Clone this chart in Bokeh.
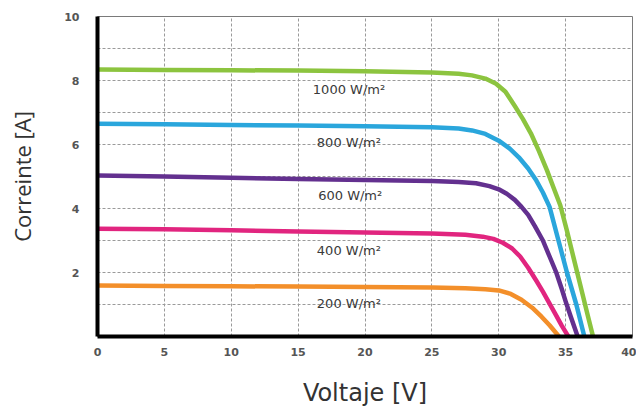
from bokeh.plotting import figure
from bokeh.models import Range1d, FixedTicker, ColumnDataSource
from bokeh.core.properties import value
from bokeh.embed import file_html
from bokeh.resources import INLINE

# ---- data ----
series_names = ["1000 W/m²", "800 W/m²", "600 W/m²", "400 W/m²", "200 W/m²"]
series_colors = ["#8cc43f", "#2aa6dc", "#63308f", "#e1257f", "#f38f2a"]

v_1000 = [0, 5, 10, 15, 20, 25, 27, 28, 29, 29.8, 30.5, 31.2, 31.8, 32.4, 33.0, 33.6, 34.1, 34.6, 35.1, 35.6, 36.1, 36.6, 37.05]
i_1000 = [8.34, 8.33, 8.32, 8.31, 8.29, 8.25, 8.21, 8.16, 8.06, 7.9, 7.65, 7.2, 6.8, 6.35, 5.8, 5.2, 4.65, 4.1, 3.3, 2.45, 1.6, 0.75, 0.0]

v_800 = [0, 5, 10, 15, 20, 25, 27, 28, 29, 30, 30.8, 31.5, 32.2, 32.8, 33.3, 33.8, 34.4, 35.1, 35.8, 36.4]
i_800 = [6.65, 6.63, 6.61, 6.59, 6.57, 6.54, 6.5, 6.44, 6.33, 6.12, 5.88, 5.6, 5.25, 4.88, 4.5, 4.05, 3.1, 2.0, 1.0, 0.0]

v_600 = [0, 5, 10, 15, 20, 25, 27, 28.3, 29.3, 30.0, 30.6, 31.2, 31.7, 32.2, 32.7, 33.3, 33.8, 34.3, 34.7, 35.0, 35.4, 35.9]
i_600 = [5.03, 5.0, 4.96, 4.92, 4.89, 4.86, 4.83, 4.79, 4.7, 4.6, 4.46, 4.27, 4.05, 3.8, 3.45, 3.0, 2.5, 2.0, 1.5, 1.1, 0.6, 0.0]

v_400 = [0, 5, 10, 15, 20, 25, 27.5, 28.8, 29.6, 30.3, 31.0, 31.6, 32.2, 32.8, 33.3, 33.8, 34.3, 34.7, 35.2]
i_400 = [3.37, 3.35, 3.32, 3.28, 3.25, 3.22, 3.18, 3.12, 3.05, 2.93, 2.75, 2.5, 2.15, 1.75, 1.4, 1.03, 0.65, 0.35, 0.0]

v_200 = [0, 5, 10, 15, 20, 25, 27.5, 29.0, 30.0, 30.9, 31.7, 32.5, 33.2, 33.8, 34.3, 34.5]
i_200 = [1.59, 1.58, 1.57, 1.56, 1.55, 1.53, 1.51, 1.48, 1.44, 1.33, 1.15, 0.9, 0.62, 0.35, 0.1, 0.0]

label_v = [16.1, 16.4, 16.5, 16.4, 16.4]
label_i = [7.72, 6.06, 4.41, 2.69, 1.03]

x_ticks = [0, 5, 10, 15, 20, 25, 30, 35, 40]
y_ticks = [2, 4, 6, 8, 10]
y_grid = [1, 2, 3, 4, 5, 6, 7, 8, 9]
x_grid = [5, 10, 15, 20, 25, 30, 35]

p = figure(width=636, height=409, output_backend="svg", toolbar_location=None,
           x_range=Range1d(0, 40), y_range=Range1d(0, 10),
           min_border_left=97, min_border_right=4, min_border_top=16, min_border_bottom=73,
           background_fill_color="white", border_fill_color="white")

p.outline_line_color = "#7a7a7a"
p.outline_line_width = 1

# grid
p.xgrid.ticker = FixedTicker(ticks=x_grid)
p.ygrid.ticker = FixedTicker(ticks=y_grid)
for g in (p.xgrid, p.ygrid):
    g.grid_line_color = "#9a9a9a"
    g.grid_line_dash = "3 2"
    g.grid_line_width = 1

# axes
p.xaxis.ticker = FixedTicker(ticks=x_ticks)
p.yaxis.ticker = FixedTicker(ticks=y_ticks)
for ax in (p.xaxis, p.yaxis):
    ax.axis_line_color = "black"
    ax.axis_line_width = 4
    ax.major_tick_line_color = None
    ax.minor_tick_line_color = None
    ax.major_label_text_font = "DejaVu Sans"
    ax.major_label_text_font_size = "11px"
    ax.major_label_text_font_style = "bold"
    ax.major_label_text_color = "#555555"
    ax.axis_label_text_font_style = "normal"
    ax.axis_label_text_color = "#333333"

p.xaxis.axis_label = "Voltaje [V]"
p.xaxis.axis_label_text_font = "DejaVu Sans"
p.xaxis.axis_label_text_font_size = "24px"
p.yaxis.axis_label = "Correinte [A]"
p.yaxis.axis_label_text_font = "Open Sans"
p.yaxis.axis_label_text_font_size = "22px"
p.xaxis.major_label_standoff = 5
p.yaxis.major_label_standoff = 12
p.xaxis.axis_label_standoff = 20
p.yaxis.axis_label_standoff = 24

curves = [(v_1000, i_1000), (v_800, i_800), (v_600, i_600), (v_400, i_400), (v_200, i_200)]
for (v, i), c in zip(curves, series_colors):
    p.line(v, i, line_color=c, line_width=4.5, line_join="round", line_cap="round")

src = ColumnDataSource(dict(x=label_v, y=label_i, t=series_names))
p.text(x="x", y="y", text="t", source=src, text_font=value("DejaVu Sans"),
       text_font_size="13px", text_color="#3a3a3a", text_align="left",
       text_baseline="middle")

open("out.html", "w").write(file_html(p, INLINE))
